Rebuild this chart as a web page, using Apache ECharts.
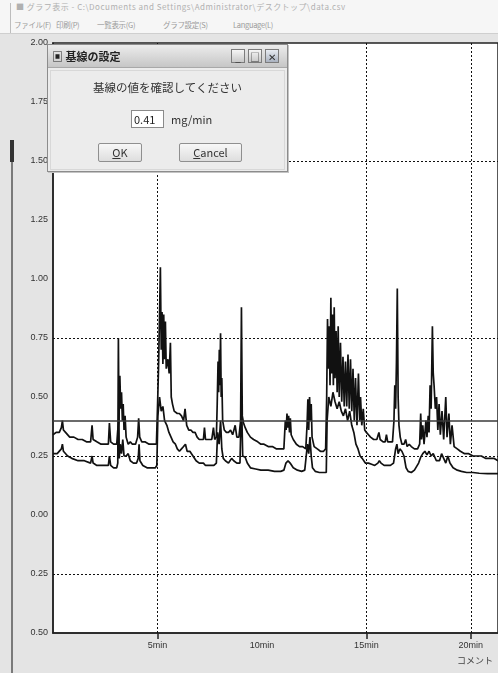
<!DOCTYPE html>
<html><head><meta charset="utf-8">
<script src="https://cdn.jsdelivr.net/npm/echarts@6/dist/echarts.min.js"></script>
<style>
html,body{margin:0;padding:0}
body{width:498px;height:673px;overflow:hidden;background:#e4e4e4;position:relative;font-family:"Noto Sans CJK JP","Noto Sans",sans-serif}
#top{position:absolute;left:0;top:0;width:498px;height:33px;background:#f6f6f6;border-bottom:1px solid #cfcfcf}
#top .edge{position:absolute;left:10px;top:3px;width:1px;height:30px;background:#bdbdbd}
#ttl{position:absolute;left:16px;top:1px;font-size:8px;color:#b0b0b0;white-space:nowrap;letter-spacing:0.5px}
.mi{position:absolute;top:19px;font-size:7.5px;color:#9a9a9a;white-space:nowrap;letter-spacing:-0.3px}
#chart{position:absolute;left:0;top:0;width:498px;height:673px}
#leftbar{position:absolute;left:11px;top:140px;width:2px;height:533px;background:#7a7a7a}
#leftbar2{position:absolute;left:10px;top:140px;width:4px;height:22px;background:#333}
#comment{position:absolute;left:457px;top:654px;font-size:9px;color:#444;white-space:nowrap}
#dlg{position:absolute;left:47px;top:44px;width:239px;height:126px;background:#ececec;border:1px solid #8c8c8c;box-shadow:1px 1px 0 #c4c4c4}
#dtitle{position:absolute;left:0;top:0;width:239px;height:22px;background:linear-gradient(#ececec,#c6c6c6);border-bottom:1px solid #a8a8a8}
#dtitle .t{position:absolute;left:4px;top:3px;font-size:11px;color:#222;font-weight:bold;white-space:nowrap}
.wb{position:absolute;top:4px;width:14px;height:14px;border:1px solid #7c7c7c;background:linear-gradient(#f6f6f6,#c8c8c8);font-size:10px;line-height:13px;text-align:center;color:#333;box-sizing:border-box}
#dinner{position:absolute;left:2px;top:25px;width:233px;height:98px;border:1px solid #d8d8d8}
#msg{position:absolute;left:0;top:34px;width:239px;text-align:center;font-size:11.5px;color:#333}
#inp{position:absolute;left:83px;top:65px;width:33px;height:18px;background:#fff;border:1px solid #8a8a8a;box-sizing:border-box;font-size:11px;line-height:16px;padding-left:2px;color:#222}
#unit{position:absolute;left:123px;top:66px;font-size:11px;color:#333}
.btn{position:absolute;top:98px;height:19px;border:1px solid #8f8f8f;border-radius:2px;background:linear-gradient(#f7f7f7,#dedede);box-sizing:border-box;font-size:11px;line-height:17px;text-align:center;color:#333}
</style></head><body>
<div id="top"><div class="edge"></div>
<div id="ttl">■ グラフ表示 - C:\Documents and Settings\Administrator\デスクトップ\data.csv</div>
<span class="mi" style="left:14px">ファイル(F)</span>
<span class="mi" style="left:56px">印刷(P)</span>
<span class="mi" style="left:97px">一覧表示(G)</span>
<span class="mi" style="left:163px">グラフ設定(S)</span>
<span class="mi" style="left:233px">Language(L)</span>
</div>
<div id="leftbar"></div><div id="leftbar2"></div>
<div id="chart"></div>
<div id="comment">コメント</div>
<div id="dlg">
 <div id="dtitle"><div class="t">▣ 基線の設定</div>
  <div class="wb" style="left:183px">_</div>
  <div class="wb" style="left:200px">□</div>
  <div class="wb" style="left:217px;background:linear-gradient(#e8ecf2,#aab2c0)">✕</div>
 </div>
 <div id="dinner"></div>
 <div id="msg">基線の値を確認してください</div>
 <div id="inp">0.41</div>
 <div id="unit">mg/min</div>
 <div class="btn" style="left:50px;width:44px"><u>O</u>K</div>
 <div class="btn" style="left:131px;width:63px"><u>C</u>ancel</div>
</div>
<script>
// time in minutes, values in mg/min
const upperT = [0.00,0.15,0.30,0.40,0.45,0.50,0.60,0.80,1.00,1.20,1.40,1.60,1.80,1.87,1.92,2.10,2.30,2.50,2.65,2.70,2.76,2.90,3.05,3.10,3.16,3.20,3.24,3.28,3.32,3.36,3.40,3.45,3.50,3.60,3.70,3.80,3.95,4.05,4.10,4.15,4.25,4.40,4.60,4.80,4.95,5.00,5.05,5.10,5.14,5.18,5.22,5.26,5.30,5.34,5.38,5.42,5.50,5.56,5.62,5.66,5.72,5.80,5.86,5.95,6.05,6.15,6.25,6.32,6.40,6.50,6.60,6.70,6.80,6.90,7.00,7.10,7.20,7.25,7.30,7.45,7.60,7.68,7.74,7.82,7.86,7.90,7.93,7.96,7.99,8.02,8.05,8.08,8.12,8.20,8.30,8.40,8.50,8.60,8.72,8.80,8.90,8.98,9.02,9.06,9.12,9.20,9.30,9.45,9.60,9.80,9.95,10.10,10.30,10.50,10.70,10.90,11.05,11.12,11.16,11.20,11.24,11.28,11.32,11.36,11.40,11.50,11.65,11.80,11.95,12.10,12.16,12.20,12.24,12.28,12.32,12.36,12.40,12.50,12.65,12.80,12.95,13.05,13.10,13.14,13.18,13.22,13.26,13.30,13.34,13.38,13.42,13.46,13.50,13.55,13.60,13.65,13.70,13.76,13.82,13.88,13.94,14.00,14.06,14.12,14.18,14.24,14.30,14.36,14.42,14.48,14.55,14.62,14.68,14.72,14.78,14.85,14.92,15.00,15.10,15.20,15.35,15.50,15.60,15.66,15.80,15.90,15.96,16.02,16.15,16.25,16.32,16.36,16.40,16.44,16.48,16.52,16.56,16.62,16.70,16.80,16.88,16.95,17.05,17.15,17.30,17.45,17.55,17.60,17.64,17.70,17.76,17.85,17.90,17.96,18.00,18.05,18.10,18.16,18.20,18.24,18.30,18.36,18.42,18.48,18.54,18.62,18.70,18.80,18.86,18.95,19.02,19.10,19.20,19.35,19.50,19.70,19.90,20.10,20.30,20.50,20.70,20.90,21.10,21.30,21.60];
const upperV = [0.34,0.35,0.35,0.37,0.40,0.36,0.35,0.33,0.33,0.32,0.32,0.31,0.31,0.38,0.32,0.31,0.30,0.30,0.30,0.39,0.31,0.30,0.30,0.36,0.40,0.59,0.45,0.52,0.40,0.47,0.36,0.42,0.33,0.30,0.31,0.30,0.30,0.33,0.41,0.33,0.31,0.31,0.30,0.30,0.30,0.45,0.62,0.85,1.05,0.70,0.86,0.64,0.85,0.66,0.82,0.62,0.66,0.60,0.73,0.50,0.47,0.44,0.44,0.43,0.43,0.42,0.40,0.45,0.38,0.36,0.36,0.35,0.35,0.33,0.32,0.32,0.32,0.37,0.32,0.32,0.32,0.37,0.32,0.33,0.47,0.65,0.52,0.70,0.55,0.77,0.50,0.58,0.40,0.36,0.35,0.35,0.36,0.34,0.38,0.33,0.33,0.40,0.88,0.42,0.39,0.37,0.35,0.33,0.32,0.31,0.30,0.30,0.29,0.29,0.28,0.28,0.28,0.40,0.36,0.43,0.37,0.42,0.35,0.41,0.34,0.32,0.30,0.29,0.29,0.28,0.38,0.49,0.36,0.50,0.40,0.47,0.33,0.29,0.28,0.27,0.27,0.28,0.50,0.83,0.62,0.80,0.55,0.92,0.60,0.85,0.55,0.88,0.58,0.78,0.52,0.80,0.50,0.73,0.48,0.67,0.46,0.65,0.46,0.68,0.45,0.66,0.44,0.62,0.40,0.58,0.38,0.60,0.40,0.50,0.38,0.45,0.36,0.35,0.34,0.33,0.32,0.32,0.35,0.32,0.31,0.31,0.34,0.31,0.31,0.31,0.40,0.55,0.45,0.65,0.96,0.50,0.38,0.33,0.30,0.30,0.32,0.29,0.30,0.29,0.28,0.28,0.30,0.43,0.32,0.38,0.30,0.40,0.33,0.42,0.35,0.55,0.45,0.80,0.60,0.55,0.45,0.50,0.36,0.47,0.34,0.44,0.32,0.50,0.33,0.43,0.30,0.38,0.29,0.28,0.27,0.26,0.26,0.25,0.25,0.25,0.24,0.24,0.24,0.23,0.23];
const lowerT = [0.00,0.20,0.40,0.45,0.50,0.70,0.90,1.20,1.50,1.80,1.87,1.92,2.10,2.40,2.65,2.70,2.76,2.90,3.05,3.10,3.13,3.17,3.22,3.28,3.34,3.40,3.50,3.60,3.70,3.85,4.00,4.08,4.12,4.16,4.30,4.50,4.70,4.90,4.97,5.02,5.10,5.18,5.26,5.34,5.45,5.55,5.65,5.75,5.86,5.95,6.05,6.15,6.25,6.34,6.42,6.55,6.70,6.85,7.00,7.20,7.30,7.50,7.70,7.82,7.88,7.95,8.02,8.08,8.15,8.25,8.40,8.55,8.65,8.80,8.95,9.02,9.08,9.20,9.30,9.45,9.70,9.95,10.30,10.60,10.90,11.05,11.15,11.25,11.35,11.50,11.70,11.90,12.05,12.12,12.18,12.24,12.30,12.36,12.42,12.55,12.75,12.95,13.08,13.12,13.20,13.30,13.40,13.50,13.60,13.70,13.80,13.90,14.00,14.10,14.20,14.30,14.40,14.50,14.60,14.70,14.80,14.95,15.10,15.25,15.40,15.55,15.62,15.70,15.85,16.00,16.15,16.30,16.40,16.46,16.52,16.60,16.70,16.80,16.90,17.00,17.15,17.30,17.50,17.60,17.70,17.80,17.90,18.00,18.10,18.20,18.35,18.50,18.60,18.70,18.80,18.90,19.00,19.15,19.35,19.55,19.80,20.10,20.40,20.80,21.20,21.60];
const lowerV = [0.26,0.26,0.28,0.30,0.27,0.25,0.24,0.23,0.23,0.22,0.25,0.22,0.21,0.21,0.21,0.25,0.21,0.20,0.20,0.22,0.75,0.24,0.30,0.26,0.32,0.25,0.25,0.26,0.23,0.22,0.22,0.24,0.30,0.23,0.21,0.20,0.20,0.20,0.21,0.42,0.50,0.44,0.46,0.40,0.38,0.35,0.33,0.31,0.30,0.28,0.27,0.28,0.29,0.30,0.27,0.27,0.25,0.23,0.22,0.22,0.21,0.21,0.21,0.22,0.35,0.30,0.40,0.28,0.24,0.23,0.22,0.24,0.23,0.22,0.22,0.50,0.25,0.245,0.22,0.20,0.195,0.19,0.19,0.185,0.185,0.19,0.22,0.23,0.22,0.20,0.19,0.185,0.19,0.25,0.30,0.26,0.33,0.25,0.20,0.185,0.18,0.18,0.18,0.40,0.50,0.46,0.52,0.48,0.45,0.48,0.44,0.42,0.45,0.40,0.44,0.38,0.35,0.30,0.28,0.25,0.24,0.22,0.22,0.215,0.21,0.22,0.23,0.22,0.21,0.21,0.21,0.22,0.28,0.30,0.26,0.28,0.27,0.25,0.20,0.185,0.18,0.19,0.22,0.245,0.26,0.27,0.255,0.27,0.25,0.26,0.23,0.23,0.26,0.24,0.22,0.25,0.22,0.20,0.19,0.185,0.18,0.18,0.177,0.175,0.175,0.175];
const baselineValue = 0.40;
const xLabelValues = [5, 10, 15, 20];
const xTickLabels = ['5min', '10min', '15min', '20min'];
const xTickValues = [5, 15, 20];
const yTickLabels = ['0.50','0.25','0.00','0.25','0.50','0.75','1.00','1.25','1.50','1.75','2.00'];
const hGridValues = [1.5, 0.75, 0.25, -0.25];
const vGridValues = [5, 15, 20];

const upper = upperT.map((t, i) => [t, upperV[i]]);
const lower = lowerT.map((t, i) => [t, lowerV[i]]);

const chart = echarts.init(document.getElementById('chart'), null, {renderer: 'canvas'});
const dotted = {type: [2, 2], color: '#111', width: 1};
chart.setOption({
  animation: false,
  grid: {left: 53, top: 43, right: 0, height: 590, show: true, backgroundColor: '#ffffff', borderColor: '#222', borderWidth: 1.5, outerBoundsMode: 'none'},
  xAxis: {
    type: 'value', min: 0, max: 21.3, interval: 5,
    axisLine: {show: true, onZero: false, lineStyle: {color: '#222', width: 1.5}},
    axisTick: {show: true, customValues: xTickValues, length: 6, lineStyle: {color: '#222', width: 1.5}},
    axisLabel: {customValues: xLabelValues, formatter: v => xTickLabels[xLabelValues.indexOf(v)], color: '#333', fontSize: 9, margin: 8, fontFamily: 'Liberation Sans'},
    splitLine: {show: false}
  },
  yAxis: {
    type: 'value', min: -0.5, max: 2, interval: 0.25,
    axisLine: {show: true, onZero: false, lineStyle: {color: '#222', width: 1.5}},
    axisTick: {show: false},
    axisLabel: {formatter: v => yTickLabels[Math.round((v + 0.5) / 0.25)], color: '#333', fontSize: 9, margin: 5, fontFamily: 'Liberation Sans'},
    splitLine: {show: false}
  },
  series: [
    {
      type: 'line', data: upper, showSymbol: false, symbol: 'none',
      lineStyle: {color: '#111', width: 1.7}, z: 3,
      markLine: {
        silent: true, symbol: 'none', label: {show: false}, animation: false,
        lineStyle: dotted,
        data: hGridValues.map(v => ({yAxis: v})).concat(vGridValues.map(v => ({xAxis: v}))).concat([{yAxis: baselineValue, lineStyle: {type: 'solid', color: '#3a3a3a', width: 1.5}}])
      }
    },
    {
      type: 'line', data: lower, showSymbol: false, symbol: 'none',
      lineStyle: {color: '#111', width: 1.7}, z: 3
    }
  ]
});
</script>
</body></html>
